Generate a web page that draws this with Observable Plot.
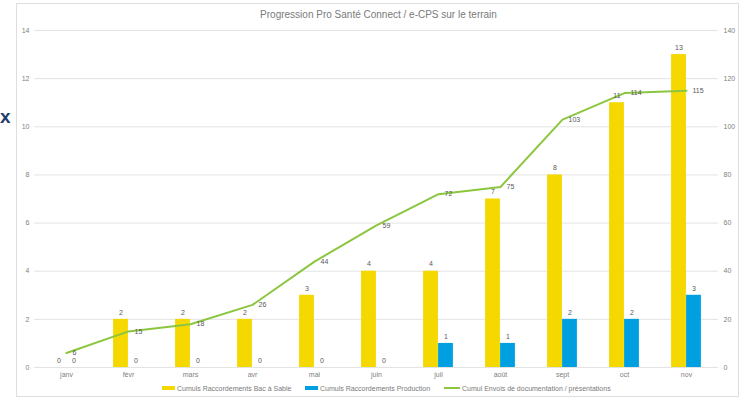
<!DOCTYPE html>
<html><head><meta charset="utf-8">
<script src="https://cdn.jsdelivr.net/npm/d3@7"></script>
<script src="https://cdn.jsdelivr.net/npm/@observablehq/plot@0.6"></script>
<style>
body{margin:0;background:#fff;font-family:"Liberation Sans",Arial,sans-serif;}
#wrap{position:relative;width:750px;height:400px;overflow:hidden;}
#frame{position:absolute;left:16px;top:3px;width:723px;height:394px;border:1px solid #dedede;box-sizing:border-box;}
#title{position:absolute;left:0;width:757px;top:9px;text-align:center;font-size:10px;color:#7a7a7a;}
#xmark{position:absolute;left:0px;top:106px;font-size:19px;font-weight:bold;color:#1f3f6e;}
#chart{position:absolute;left:0;top:0;}
#legend{position:absolute;top:383px;left:0;width:750px;font-size:7px;color:#7a7a7a;}
.li{position:absolute;top:0;white-space:nowrap;display:flex;align-items:center;height:10px;}
.sw{display:inline-block;margin-right:2px;}
</style></head>
<body>
<div id="wrap">
<div id="frame"></div>
<div id="xmark">x</div>
<div id="title">Progression Pro Santé Connect / e-CPS sur le terrain</div>
<div id="chart"></div>
<div id="legend"></div>
</div>
<script>
const months = ["janv","févr","mars","avr","mai","juin","juil","août","sept","oct","nov"];
const bacASable = [0,2,2,2,3,4,4,7,8,11,13];
const production = [0,0,0,0,0,0,1,1,2,2,3];
const envois = [6,15,18,26,44,59,72,75,103,114,115];
const leftTicks = [0,2,4,6,8,10,12,14];
const seriesNames = ["Cumuls Raccordements Bac à Sable","Cumuls Raccordements Production","Cumul Envois de documentation / présentations"];
const colors = ["#f5d800","#00a0e0","#8cc63f"];

const rows = months.map((m,i)=>({month:m, bac:bacASable[i], prod:production[i], doc:envois[i]}));
const ratio = 10; // right axis = left axis * 10

const W = 750, H = 400;
const band = (718-34)/months.length;
const bw = 15;
const gray = "#808080";

const chart = Plot.plot({
  width: W, height: H,
  marginLeft: 34, marginRight: 32, marginTop: 30, marginBottom: 33,
  style: {fontFamily: '"Liberation Sans", Arial, sans-serif', background: "transparent", overflow: "visible"},
  x: {type: "band", domain: months, padding: 0},
  y: {domain: [0,14]},
  marks: [
    Plot.gridY(leftTicks, {stroke: "#e3e3e3", strokeOpacity: 1, strokeWidth: 1}),
    Plot.axisY(leftTicks, {anchor: "left", tickSize: 0, tickPadding: 5, fontSize: 7, fill: gray, label: null}),
    Plot.axisY(leftTicks, {anchor: "right", tickSize: 0, tickPadding: 5, fontSize: 7, fill: gray, label: null, tickFormat: d => d*ratio, textAnchor: "start"}),
    Plot.axisX({tickSize: 0, tickPadding: 5, fontSize: 7, fill: gray, label: null}),
    Plot.barY(rows, {x: "month", y: "bac", fill: colors[0], insetLeft: band/2 - bw, insetRight: band/2}),
    Plot.barY(rows, {x: "month", y: "prod", fill: colors[1], insetLeft: band/2, insetRight: band/2 - bw}),
    Plot.line(rows, {x: "month", y: d => d.doc/ratio, stroke: colors[2], strokeWidth: 2}),
    Plot.text(rows, {x: "month", y: "bac", text: d => String(d.bac), dx: -bw/2, dy: -7, fontSize: 7, fill: "#595959"}),
    Plot.text(rows, {x: "month", y: "prod", text: d => String(d.prod), dx: bw/2, dy: -7, fontSize: 7, fill: "#595959"}),
    Plot.text(rows, {x: "month", y: d => d.doc/ratio, text: d => String(d.doc), dx: 6, textAnchor: "start", fontSize: 7, fill: "#595959"})
  ]
});
document.getElementById("chart").appendChild(chart);

const leg = document.getElementById("legend");
const items = [
  {x:162, name:seriesNames[0], c:colors[0], w:13, h:4},
  {x:305, name:seriesNames[1], c:colors[1], w:13, h:4},
  {x:444, name:seriesNames[2], c:colors[2], w:16, h:2}
];
for (const it of items) {
  const d = document.createElement("div");
  d.className = "li";
  d.style.left = it.x + "px";
  const s = document.createElement("span");
  s.className = "sw";
  s.style.width = it.w + "px"; s.style.height = it.h + "px"; s.style.background = it.c;
  d.appendChild(s);
  d.appendChild(document.createTextNode(it.name));
  leg.appendChild(d);
}
</script>
</body></html>
